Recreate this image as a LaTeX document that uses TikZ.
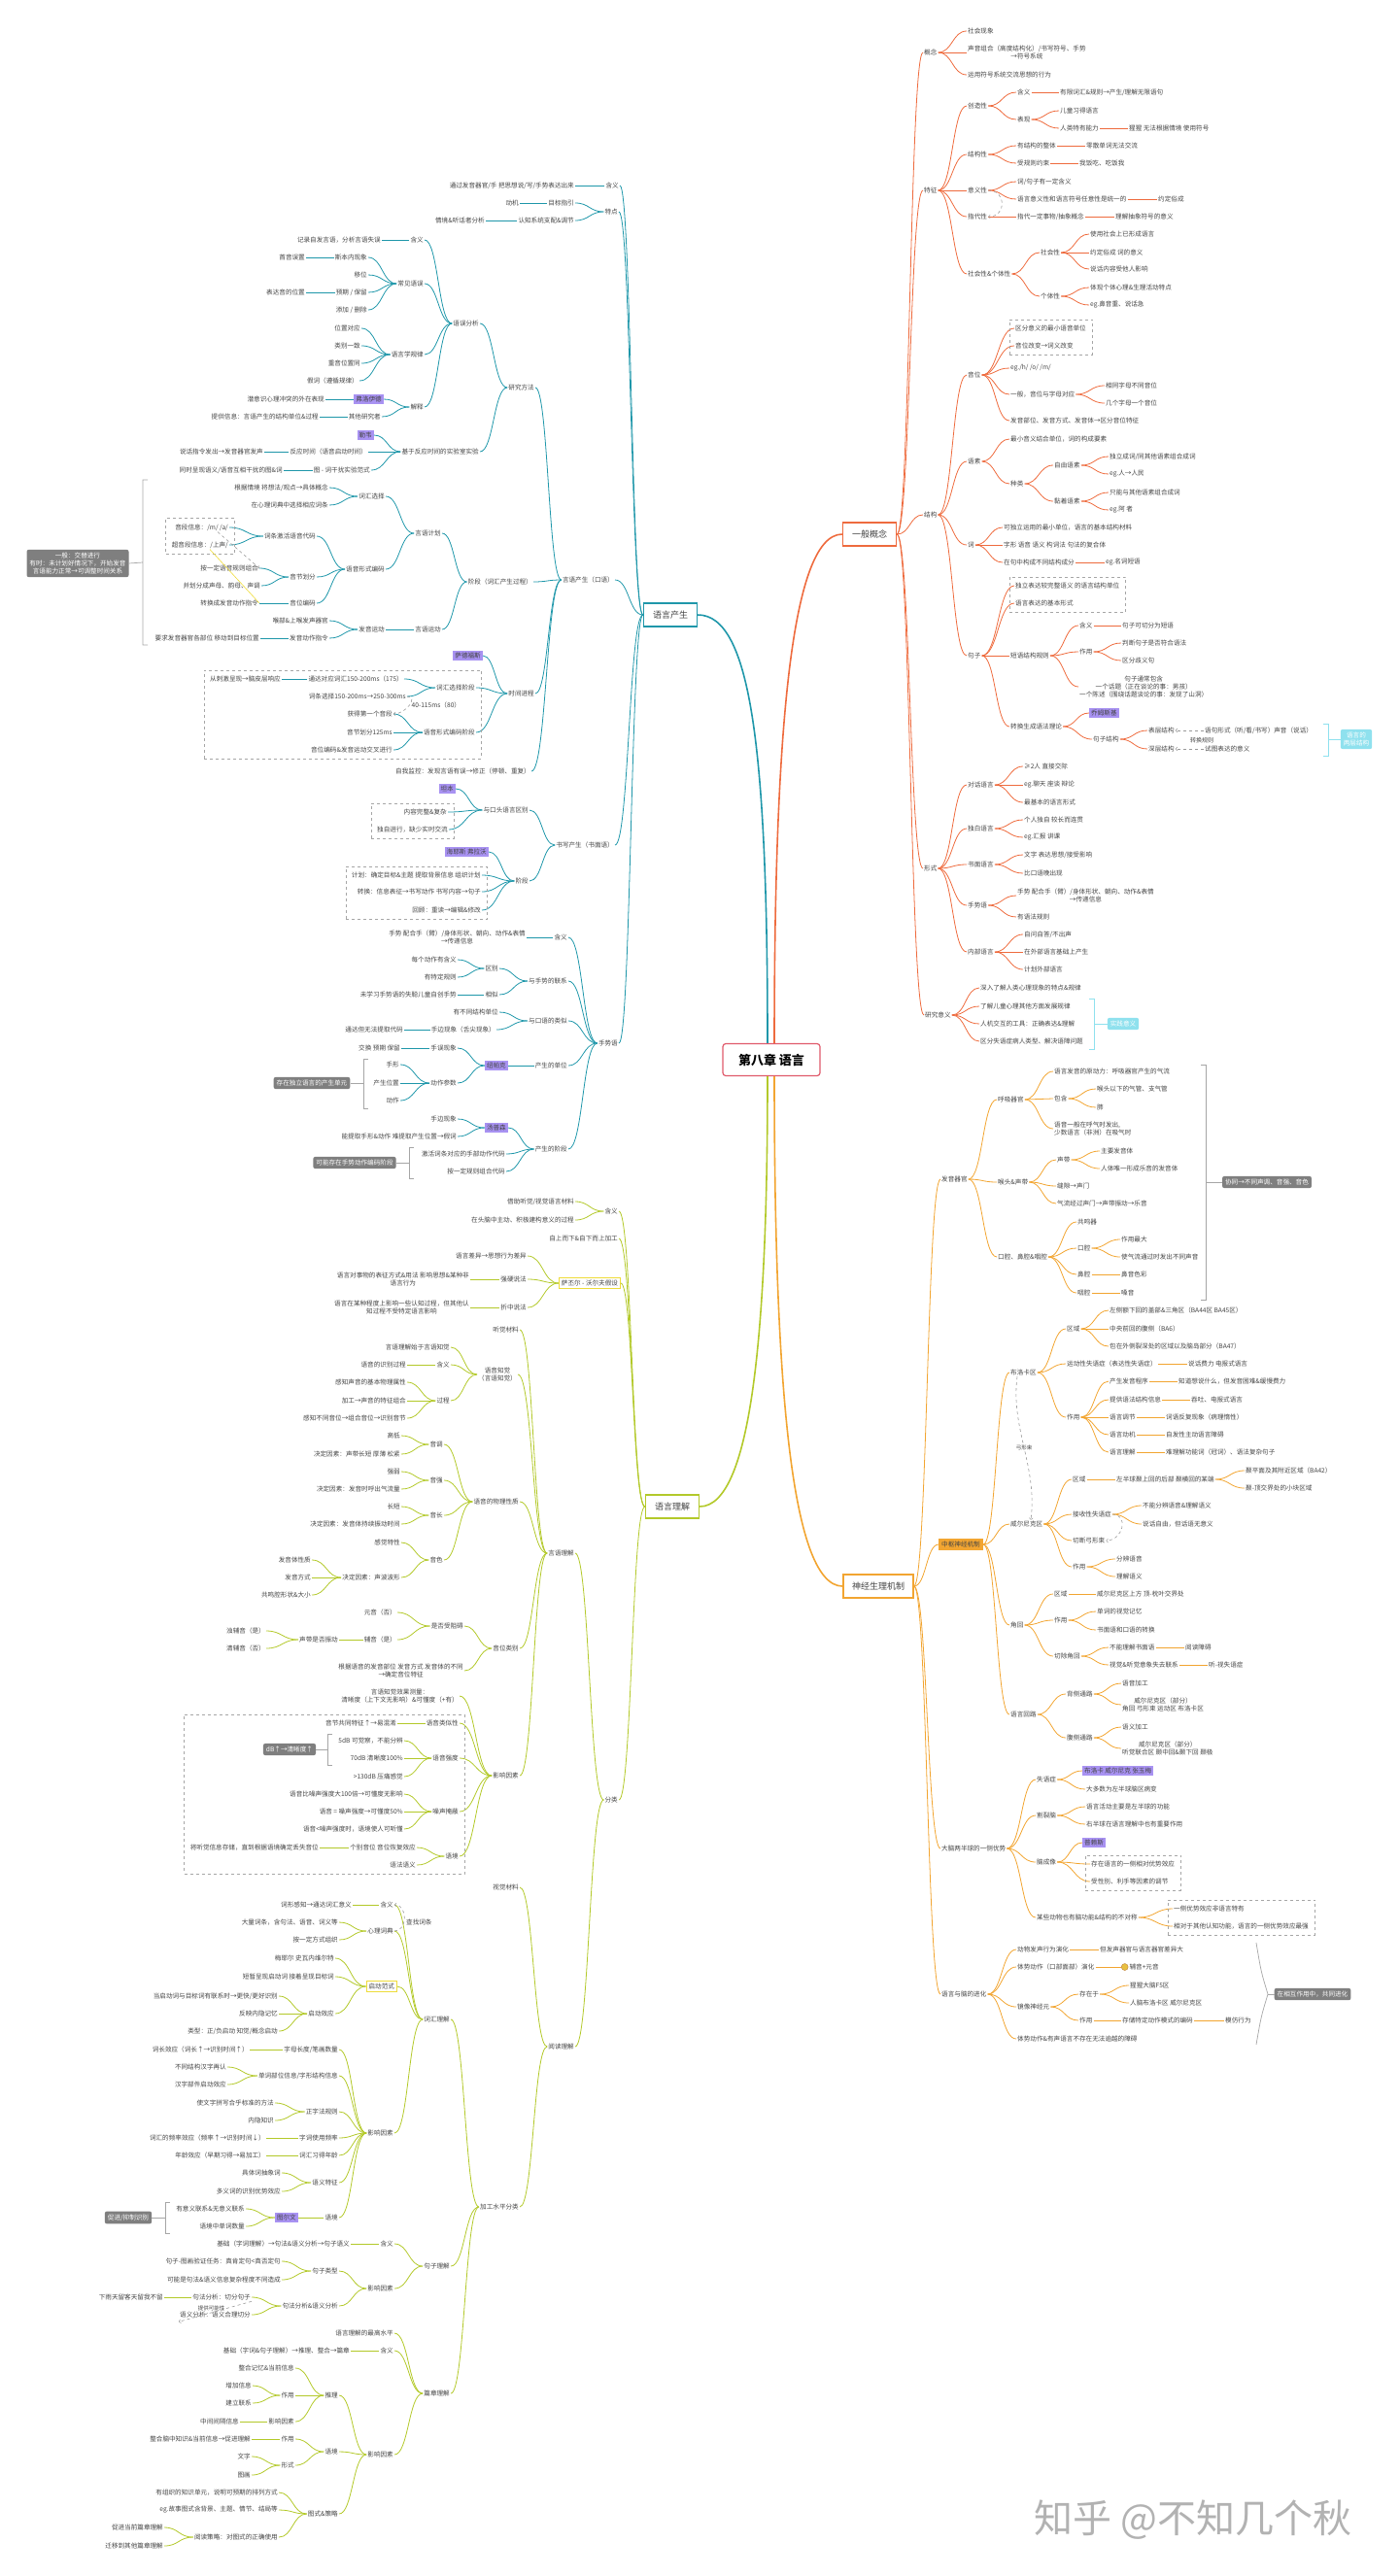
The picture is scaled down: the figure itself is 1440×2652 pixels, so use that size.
\documentclass[tikz,border=0pt]{standalone}
\usepackage{fontspec}
\setmainfont{Noto Sans CJK SC}
\usepackage{tikz}
\usetikzlibrary{calc,fit}
\definecolor{cProd}{HTML}{1F97AA}
\definecolor{cGen}{HTML}{EE6B3E}
\definecolor{cComp}{HTML}{B3C92A}
\definecolor{cNeu}{HTML}{F2A531}
\definecolor{cRoot}{HTML}{E05A6B}
\definecolor{cTag}{HTML}{A892F2}
\definecolor{cNote}{HTML}{7F7F7F}
\definecolor{cCyan}{HTML}{8FE1EE}
\definecolor{cYel}{HTML}{EEDC3A}
\definecolor{txt}{HTML}{444444}
\definecolor{cIcon}{HTML}{E8C040}
\newcommand{\leaffont}{\fontsize{6.6}{8}\selectfont}
\newcommand{\leftkid}[6][]{%
  \node[lt,#1] (#3) at (#4,#5) {#6};
  \draw[ln] let \p1=(#2.west), \p2=(#3.east) in
    (\p1) .. controls ({(\x1+\x2)/2},\y1) and ({(\x1+\x2)/2},\y2) .. (\p2);}
\newcommand{\rightkid}[6][]{%
  \node[rt,#1] (#3) at (#4,#5) {#6};
  \draw[ln] let \p1=(#2.east), \p2=(#3.west) in
    (\p1) .. controls ({(\x1+\x2)/2},\y1) and ({(\x1+\x2)/2},\y2) .. (\p2);}
\begin{document}
\begin{tikzpicture}[x=1pt,y=-1pt,
  lt/.style={anchor=east,font=\leaffont,text=txt,inner sep=1pt},
  rt/.style={anchor=west,font=\leaffont,text=txt,inner sep=1pt},
  tag/.style={fill=cTag,inner sep=2pt},
  ybox/.style={draw=cYel,line width=1pt,inner sep=2.5pt},
  obox/.style={fill=cNeu,inner sep=3pt},
  note/.style={fill=cNote,text=white,rounded corners=2pt,font=\leaffont,align=center,inner sep=3pt},
  cnote/.style={fill=cCyan,text=white,rounded corners=2pt,font=\leaffont,align=center,inner sep=3pt},
  mainbox/.style={rectangle,fill=white,line width=1.4pt,font=\fontsize{9}{10}\selectfont,text=txt,minimum height=24pt,minimum width=55pt,inner sep=3pt},
  rootbox/.style={rectangle,rounded corners=3pt,fill=white,draw=cRoot,line width=1.2pt,font=\fontsize{13}{14}\bfseries,minimum width=100pt,minimum height=33pt},
  dbox/.style={draw=gray!70,dashed,inner sep=5pt},
  brk/.style={draw=gray!70,line width=.7pt},
  rel/.style={draw=gray!80,dashed,line width=.6pt},
  ml/.style={line width=1.6pt},
  lbl/.style={font=\leaffont,text=txt,inner sep=1pt}]
\useasboundingbox (0,0) rectangle (1440,2652);

\node[rootbox] (root) at (794,1091) {第八章 语言};
\node[mainbox,draw=cProd] (prod) at (690,633) {语言产生};
\node[mainbox,draw=cComp] (comp) at (692,1551) {语言理解};
\node[mainbox,draw=cGen] (gen) at (895,550) {一般概念};
\node[mainbox,draw=cNeu,minimum width=72pt] (neu) at (904,1633) {神经生理机制};
\draw[ml,draw=cProd] (prod.east) .. controls +(55pt,0pt) and +(0pt,300pt) .. ([xshift=-4pt]root.north);
\draw[ml,draw=cGen] (gen.west) .. controls +(-55pt,0pt) and +(0pt,300pt) .. ([xshift=3pt]root.north);
\draw[ml,draw=cComp] (comp.east) .. controls +(55pt,0pt) and +(0pt,-250pt) .. ([xshift=-4pt]root.south);
\draw[ml,draw=cNeu] (neu.west) .. controls +(-55pt,0pt) and +(0pt,-300pt) .. ([xshift=3pt]root.south);

\begin{scope}[ln/.style={draw=cProd,line width=.8pt}]
\leftkid{prod}{pDef}{638}{191}{含义}
\leftkid{pDef}{pDefA}{592}{191}{通过发音器官/手 把思想说/写/手势表达出来}
\leftkid{prod}{pFeat}{637}{218}{特点}
\leftkid{pFeat}{pGoal}{592}{209}{目标指引}
\leftkid{pGoal}{pMot}{535}{209}{动机}
\leftkid{pFeat}{pCog}{592}{227}{认知系统支配\&调节}
\leftkid{pCog}{pSit}{500}{227}{情境\&听话者分析}
\leftkid{prod}{pOral}{633}{597}{言语产生（口语）}
\leftkid{pOral}{pMeth}{551}{399}{研究方法}
\leftkid{pMeth}{pErr}{494}{333}{语误分析}
\leftkid{pErr}{pErrDef}{437}{247}{含义}
\leftkid{pErrDef}{pErrDefA}{393}{247}{记录自发言语，分析言语失误}
\leftkid{pErr}{pErrType}{437}{292}{常见语误}
\leftkid{pErrType}{pSpoon}{379}{265}{斯本内现象}
\leftkid{pSpoon}{pSpoonA}{315}{265}{首音误置}
\leftkid{pErrType}{pShift}{379}{283}{移位}
\leftkid{pErrType}{pAnt}{379}{301}{预期 / 保留}
\leftkid{pAnt}{pAntA}{315}{301}{表达音的位置}
\leftkid{pErrType}{pAdd}{379}{319}{添加 / 删除}
\leftkid{pErr}{pLaw}{437}{365}{语言学规律}
\leftkid{pLaw}{pLaw1}{372}{338}{位置对应}
\leftkid{pLaw}{pLaw2}{372}{356}{类别一致}
\leftkid{pLaw}{pLaw3}{372}{374}{重音位置同}
\leftkid{pLaw}{pLaw4}{370}{392}{假词（遵循规律）}
\leftkid{pErr}{pExp}{437}{419}{解释}
\leftkid[tag]{pExp}{pFreud}{395}{411}{弗洛伊德}
\leftkid{pFreud}{pFreudA}{335}{411}{潜意识心理冲突的外在表现}
\leftkid{pExp}{pOther}{393}{429}{其他研究者}
\leftkid{pOther}{pOtherA}{329}{429}{提供信息：言语产生的结构单位\&过程}
\leftkid{pMeth}{pRT}{494}{465}{基于反应时间的实验室实验}
\leftkid[tag]{pRT}{pLevelt}{385}{448}{勒韦}
\leftkid{pRT}{pRT1}{379}{465}{反应时间（语音启动时间）}
\leftkid{pRT1}{pRT1a}{272}{465}{说话指令发出→发音器官发声}
\leftkid{pRT}{pRT2}{382}{484}{图 - 词干扰实验范式}
\leftkid{pRT2}{pRT2a}{292}{484}{同时呈现语义/语音互相干扰的图\&词}
\leftkid{pOral}{pStage}{549}{599}{阶段（词汇产生过程）}
\leftkid{pStage}{pPlan}{455}{549}{言语计划}
\leftkid{pPlan}{pLex}{397}{511}{词汇选择}
\leftkid{pLex}{pLex1}{339}{502}{根据情境 将想法/观点→具体概念}
\leftkid{pLex}{pLex2}{339}{520}{在心理词典中选择相应词条}
\leftkid{pPlan}{pPhon}{397}{586}{语音形式编码}
\leftkid{pPhon}{pAct}{326}{552}{词条激活语音代码}
\leftkid{pAct}{pSeg}{236}{543}{音段信息：/m/ /a/}
\leftkid{pAct}{pSupra}{236}{561}{超音段信息：/上声/}
\leftkid{pPhon}{pSyl}{326}{594}{音节划分}
\leftkid{pSyl}{pSyl1}{267}{585}{按一定语音规则组合}
\leftkid{pSyl}{pSyl2}{269}{603}{并划分成声母、韵母、声调}
\leftkid{pPhon}{pPho}{326}{621}{音位编码}
\leftkid{pPho}{pPho1}{267}{621}{转换成发音动作指令}
\leftkid{pStage}{pMotor}{455}{648}{言语运动}
\leftkid{pMotor}{pArt}{397}{648}{发音运动}
\leftkid{pArt}{pArt1}{339}{639}{喉部\&上喉发声器官}
\leftkid{pArt}{pArt2}{339}{657}{发音动作指令}
\leftkid{pArt2}{pArt2a}{268}{657}{要求发音器官各部位 移动到目标位置}
\leftkid{pOral}{pTime}{551}{714}{时间进程}
\leftkid[tag]{pTime}{pIndef}{497}{675}{萨德福斯}
\leftkid{pTime}{pTLex}{490}{708}{词汇选择阶段}
\leftkid{pTLex}{pTLex1}{416}{699}{通达对应词汇150-200ms（175）}
\leftkid{pTLex1}{pTLex1a}{290}{699}{从刺激呈现→脑皮层响应}
\leftkid{pTLex}{pTLex2}{419}{717}{词条选择150-200ms→250-300ms}
\leftkid{pTime}{pTPh}{490}{754}{语音形式编码阶段}
\leftkid{pTPh}{pTPh1}{405}{735}{获得第一个音段}
\leftkid{pTPh}{pTPh2}{405}{754}{音节划分125ms}
\leftkid{pTPh}{pTPh3}{405}{772}{音位编码\&发音运动交叉进行}
\leftkid{pOral}{pMon}{547}{794}{自我监控：发现言语有误→修正（停顿、重复）}
\leftkid{prod}{pWrite}{633}{870}{书写产生（书面语）}
\leftkid{pWrite}{pDiff}{545}{834}{与口头语言区别}
\leftkid[tag]{pDiff}{pBell}{469}{812}{坦本}
\leftkid{pDiff}{pDiff1}{461}{836}{内容完整\&复杂}
\leftkid{pDiff}{pDiff2}{462}{854}{独自进行，缺少实时交流}
\leftkid{pWrite}{pWStage}{545}{907}{阶段}
\leftkid[tag]{pWStage}{pHayes}{503}{877}{海耶斯 弗拉沃}
\leftkid{pWStage}{pW1}{496}{901}{计划：确定目标\&主题 提取背景信息 组织计划}
\leftkid{pWStage}{pW2}{496}{918}{转换：信息表征→书写动作 书写内容→句子}
\leftkid{pWStage}{pW3}{496}{937}{回顾：重读→编辑\&修改}
\leftkid{prod}{pSign}{637}{1074}{手势语}
\leftkid{pSign}{pSDef}{585}{965}{含义}
\leftkid[align=center]{pSDef}{pSDefA}{542}{965}{手势 配合手（臂）/身体形状、朝向、动作\&表情\\→传递信息}
\leftkid{pSign}{pSG}{585}{1010}{与手势的联系}
\leftkid{pSG}{pSGd}{514}{997}{区别}
\leftkid{pSGd}{pSGd1}{471}{988}{每个动作有含义}
\leftkid{pSGd}{pSGd2}{471}{1006}{有特定规则}
\leftkid{pSG}{pSGs}{514}{1024}{相似}
\leftkid{pSGs}{pSGs1}{471}{1024}{未学习手势语的失聪儿童自创手势}
\leftkid{pSign}{pSO}{585}{1051}{与口语的类似}
\leftkid{pSO}{pSO1}{514}{1042}{有不同结构单位}
\leftkid{pSO}{pSO2}{511}{1060}{手边现象（舌尖现象）}
\leftkid{pSO2}{pSO2a}{416}{1060}{通达但无法提取代码}
\leftkid{pSign}{pSU}{585}{1097}{产生的单位}
\leftkid[tag]{pSU}{pNew}{523}{1097}{纽帕克}
\leftkid{pNew}{pSlip}{471}{1079}{手误现象}
\leftkid{pSlip}{pSlipA}{413}{1079}{交换 预期 保留}
\leftkid{pNew}{pPar}{471}{1115}{动作参数}
\leftkid{pPar}{pPar1}{412}{1096}{手形}
\leftkid{pPar}{pPar2}{412}{1115}{产生位置}
\leftkid{pPar}{pPar3}{412}{1133}{动作}
\leftkid{pSign}{pSS}{585}{1183}{产生的阶段}
\leftkid[tag]{pSS}{pTh}{523}{1161}{汤普森}
\leftkid{pTh}{pTh1}{471}{1152}{手边现象}
\leftkid{pTh}{pTh2}{471}{1170}{能提取手形\&动作 难提取产生位置→假词}
\leftkid{pSS}{pSS1}{521}{1188}{激活词条对应的手部动作代码}
\leftkid{pSS}{pSS2}{521}{1206}{按一定规则组合代码}
\end{scope}
\node[note] (pNoteA) at (80,580) {一般：交替进行\\有时：未计划好情况下，开始发音\\言语能力正常→可调整时间关系};
\draw[brk] (152,494) -- (147,494) -- (147,664) -- (152,664) (147,579) -- (pNoteA.east);
\node[note] (pNoteB) at (321,1115) {存在独立语言的产生单元};
\draw[brk] (379,1090) -- (374,1090) -- (374,1141) -- (379,1141) (374,1115) -- (pNoteB.east);
\node[note] (pNoteC) at (365,1197) {可能存在手势动作编码阶段};
\draw[brk] (426,1181) -- (421,1181) -- (421,1213) -- (426,1213) (421,1197) -- (pNoteC.east);
\node[dbox,fit=(pSeg)(pSupra)] (pBoxA) {};
\node[dbox,fit=(pTLex1a)(pTLex)(pTPh3)] (pBoxB) {};
\node[dbox,fit=(pDiff1)(pDiff2)] (pBoxC) {};
\node[dbox,fit=(pW1)(pW3)] (pBoxD) {};
\draw[rel,->] ([xshift=-12pt]pSeg.south east) -- (pSyl1.east);
\draw[draw=cYel,line width=.6pt] ([xshift=-20pt]pSupra.south east) -- (pPho1.east);
\draw[rel,->] (pTLex2.east) to[out=0,in=0,looseness=1.4] node[lbl,right=1pt] (pLag) {40-115ms（80）} (pTPh1.east);

\begin{scope}[ln/.style={draw=cComp,line width=.8pt}]
\leftkid{comp}{uDef}{637}{1247}{含义}
\leftkid{uDef}{uDef1}{592}{1237}{借助听觉/视觉语言材料}
\leftkid{uDef}{uDef2}{592}{1256}{在头脑中主动、积极建构意义的过程}
\leftkid{comp}{uTD}{637}{1275}{自上而下\&自下而上加工}
\leftkid[ybox]{comp}{uSW}{639}{1321}{萨丕尔 - 沃尔夫假设}
\leftkid{uSW}{uSW1}{543}{1293}{语言差异→思想行为差异}
\leftkid{uSW}{uSW2}{543}{1317}{强硬说法}
\leftkid[align=center]{uSW2}{uSW2a}{484}{1317}{语言对事物的表征方式\&用法 影响思想\&某种非\\语言行为}
\leftkid{uSW}{uSW3}{543}{1346}{折中说法}
\leftkid[align=center]{uSW3}{uSW3a}{484}{1346}{语言在某种程度上影响一些认知过程，但其他认\\知过程不受特定语言影响}
\leftkid{comp}{uCls}{637}{1853}{分类}
\leftkid{uCls}{uSp}{592}{1599}{言语理解}
\leftkid{uSp}{uAud}{535}{1369}{听觉材料}
\leftkid[align=center]{uSp}{uPer}{533}{1415}{语音知觉\\（言语知觉）}
\leftkid{uPer}{uPer1}{464}{1387}{言语理解始于言语知觉}
\leftkid{uPer}{uPerD}{464}{1405}{含义}
\leftkid{uPerD}{uPerDa}{419}{1405}{语音的识别过程}
\leftkid{uPer}{uPerP}{464}{1442}{过程}
\leftkid{uPerP}{uPerP1}{419}{1423}{感知声音的基本物理属性}
\leftkid{uPerP}{uPerP2}{419}{1442}{加工→声音的特征组合}
\leftkid{uPerP}{uPerP3}{419}{1460}{感知不同音位→组合音位→识别音节}
\leftkid{uSp}{uPhy}{535}{1546}{语音的物理性质}
\leftkid{uPhy}{uPit}{457}{1487}{音调}
\leftkid{uPit}{uPit1}{413}{1478}{高低}
\leftkid{uPit}{uPit2}{413}{1497}{决定因素：声带长短 厚薄 松紧}
\leftkid{uPhy}{uInt}{457}{1524}{音强}
\leftkid{uInt}{uInt1}{413}{1515}{强弱}
\leftkid{uInt}{uInt2}{413}{1533}{决定因素：发音时呼出气流量}
\leftkid{uPhy}{uLen}{457}{1560}{音长}
\leftkid{uLen}{uLen1}{413}{1551}{长短}
\leftkid{uLen}{uLen2}{413}{1569}{决定因素：发音体持续振动时间}
\leftkid{uPhy}{uTim}{457}{1606}{音色}
\leftkid{uTim}{uTim1}{413}{1588}{感觉特性}
\leftkid{uTim}{uTim2}{413}{1624}{决定因素：声波波形}
\leftkid{uTim2}{uTim2a}{321}{1606}{发音体性质}
\leftkid{uTim2}{uTim2b}{321}{1624}{发音方式}
\leftkid{uTim2}{uTim2c}{321}{1642}{共鸣腔形状\&大小}
\leftkid{uSp}{uPho}{535}{1697}{音位类别}
\leftkid{uPho}{uObs}{478}{1674}{是否受阻碍}
\leftkid{uObs}{uVow}{409}{1660}{元音（否）}
\leftkid{uObs}{uCon}{409}{1688}{辅音（是）}
\leftkid{uCon}{uVib}{349}{1688}{声带是否振动}
\leftkid{uVib}{uVib1}{274}{1679}{浊辅音（是）}
\leftkid{uVib}{uVib2}{274}{1697}{清辅音（否）}
\leftkid[align=center]{uPho}{uFeat}{478}{1720}{根据语音的发音部位 发音方式 发音体的不同\\→确定音位特征}
\leftkid{uSp}{uFac}{535}{1828}{影响因素}
\leftkid[align=center]{uFac}{uMea}{473}{1746}{言语知觉效果测量：\\清晰度（上下文无影响）\&可懂度（+有）}
\leftkid{uFac}{uSim}{473}{1774}{语音类似性}
\leftkid{uSim}{uSim1}{409}{1774}{音节共同特征↑→易混淆}
\leftkid{uFac}{uLoud}{473}{1810}{语音强度}
\leftkid{uLoud}{uLoud1}{416}{1792}{5dB 可觉察，不能分辨}
\leftkid{uLoud}{uLoud2}{416}{1810}{70dB 清晰度100\%}
\leftkid{uLoud}{uLoud3}{416}{1829}{>130dB 压痛感觉}
\leftkid{uFac}{uMask}{473}{1865}{噪声掩蔽}
\leftkid{uMask}{uMask1}{416}{1847}{语音比噪声强度大100倍→可懂度无影响}
\leftkid{uMask}{uMask2}{416}{1865}{语音 = 噪声强度→可懂度50\%}
\leftkid{uMask}{uMask3}{416}{1883}{语音<噪声强度时，语境使人可听懂}
\leftkid{uFac}{uCtx}{473}{1911}{语境}
\leftkid{uCtx}{uCtx1}{429}{1902}{个别音位 音位恢复效应}
\leftkid{uCtx1}{uCtx1a}{329}{1902}{将听觉信息存储，直到根据语境确定丢失音位}
\leftkid{uCtx}{uCtx2}{429}{1920}{语法语义}
\leftkid{uCls}{uRd}{592}{2107}{阅读理解}
\leftkid{uRd}{uVis}{535}{1943}{视觉材料}
\leftkid{uRd}{uLvl}{535}{2272}{加工水平分类}
\leftkid{uLvl}{uWord}{464}{2079}{词汇理解}
\leftkid{uWord}{uWDef}{406}{1961}{含义}
\leftkid{uWDef}{uWDefA}{363}{1961}{词形感知→通达词汇意义}
\leftkid{uWord}{uLexi}{406}{1988}{心理词典}
\leftkid{uLexi}{uLexi1}{349}{1979}{大量词条，含句法、语音、词义等}
\leftkid{uLexi}{uLexi2}{349}{1997}{按一定方式组织}
\leftkid[ybox]{uWord}{uPrim}{409}{2045}{启动范式}
\leftkid{uPrim}{uPrim1}{345}{2016}{梅耶尔 史瓦内维尔特}
\leftkid{uPrim}{uPrim2}{345}{2035}{短暂呈现启动词 接着呈现目标词}
\leftkid{uPrim}{uPrimE}{345}{2073}{启动效应}
\leftkid{uPrimE}{uPrimE1}{287}{2055}{当启动词与目标词有联系时→更快/更好识别}
\leftkid{uPrimE}{uPrimE2}{287}{2073}{反映内隐记忆}
\leftkid{uPrimE}{uPrimE3}{287}{2091}{类型：正/负启动 知觉/概念启动}
\leftkid{uWord}{uWFac}{406}{2196}{影响因素}
\leftkid{uWFac}{uWF1}{349}{2110}{字母长度/笔画数量}
\leftkid{uWF1}{uWF1a}{257}{2110}{词长效应（词长↑→识别时间↑）}
\leftkid{uWFac}{uWF2}{349}{2137}{单词部位信息/字形结构信息}
\leftkid{uWF2}{uWF2a}{234}{2128}{不同结构汉字再认}
\leftkid{uWF2}{uWF2b}{234}{2146}{汉字部件启动效应}
\leftkid{uWFac}{uWF3}{349}{2174}{正字法规则}
\leftkid{uWF3}{uWF3a}{283}{2165}{使文字拼写合乎标准的方法}
\leftkid{uWF3}{uWF3b}{283}{2183}{内隐知识}
\leftkid{uWFac}{uWF4}{349}{2201}{字词使用频率}
\leftkid{uWF4}{uWF4a}{274}{2201}{词汇的频率效应（频率↑→识别时间↓）}
\leftkid{uWFac}{uWF5}{349}{2219}{词汇习得年龄}
\leftkid{uWF5}{uWF5a}{274}{2219}{年龄效应（早期习得→易加工）}
\leftkid{uWFac}{uWF6}{349}{2247}{语义特征}
\leftkid{uWF6}{uWF6a}{290}{2237}{具体词抽象词}
\leftkid{uWF6}{uWF6b}{290}{2256}{多义词的识别优势效应}
\leftkid{uWFac}{uWF7}{349}{2283}{语境}
\leftkid[tag]{uWF7}{uTul}{307}{2283}{图尔文}
\leftkid{uTul}{uTul1}{253}{2274}{有意义联系\&无意义联系}
\leftkid{uTul}{uTul2}{253}{2292}{语境中单词数量}
\leftkid{uLvl}{uSen}{464}{2333}{句子理解}
\leftkid{uSen}{uSDef}{406}{2310}{含义}
\leftkid{uSDef}{uSDefA}{361}{2310}{基础（字词理解）→句法\&语义分析→句子语义}
\leftkid{uSen}{uSFac}{406}{2356}{影响因素}
\leftkid{uSFac}{uSType}{349}{2338}{句子类型}
\leftkid{uSType}{uSType1}{290}{2328}{句子-图画验证任务：真肯定句<真否定句}
\leftkid{uSType}{uSType2}{290}{2347}{可能是句法\&语义信息复杂程度不同造成}
\leftkid{uSFac}{uSyn}{349}{2374}{句法分析\&语义分析}
\leftkid{uSyn}{uSyn1}{259}{2365}{句法分析：切分句子}
\leftkid{uSyn1}{uSyn1a}{169}{2365}{下雨天留客天留我不留}
\leftkid{uSyn}{uSyn2}{259}{2383}{语义分析：语义合理切分}
\leftkid{uLvl}{uDis}{464}{2464}{篇章理解}
\leftkid{uDis}{uDis1}{406}{2402}{语言理解的最高水平}
\leftkid{uDis}{uDDef}{406}{2420}{含义}
\leftkid{uDDef}{uDDefA}{361}{2420}{基础（字词\&句子理解）→推理、整合→篇章}
\leftkid{uDis}{uDFac}{406}{2527}{影响因素}
\leftkid{uDFac}{uInf}{349}{2466}{推理}
\leftkid{uInf}{uInf1}{304}{2438}{整合记忆\&当前信息}
\leftkid{uInf}{uInfR}{304}{2466}{作用}
\leftkid{uInfR}{uInfR1}{260}{2456}{增加信息}
\leftkid{uInfR}{uInfR2}{260}{2474}{建立联系}
\leftkid{uInf}{uInfF}{304}{2493}{影响因素}
\leftkid{uInfF}{uInfF1}{247}{2493}{中间间隔信息}
\leftkid{uDFac}{uDC}{349}{2524}{语境}
\leftkid{uDC}{uDCR}{304}{2511}{作用}
\leftkid{uDCR}{uDCR1}{259}{2511}{整合脑中知识\&当前信息→促进理解}
\leftkid{uDC}{uDCF}{304}{2538}{形式}
\leftkid{uDCF}{uDCF1}{259}{2529}{文字}
\leftkid{uDCF}{uDCF2}{259}{2548}{图画}
\leftkid{uDFac}{uSch}{349}{2588}{图式\&策略}
\leftkid{uSch}{uSch1}{287}{2566}{有组织的知识单元，说明可预期的排列方式}
\leftkid{uSch}{uSch2}{287}{2584}{eg.故事图式含背景、主题、情节、结局等}
\leftkid{uSch}{uSch3}{287}{2612}{阅读策略：对图式的正确使用}
\leftkid{uSch3}{uSch3a}{169}{2602}{促进当前篇章理解}
\leftkid{uSch3}{uSch3b}{169}{2621}{迁移到其他篇章理解}
\end{scope}
\node[dbox,fit=(uSim)(uCtx1a)(uCtx2)(uMask1)] (uBox) {};
\node[note] (uNote) at (298,1801) {dB↑→清晰度↑};
\draw[brk] (342,1785) -- (337,1785) -- (337,1817) -- (342,1817) (337,1801) -- (uNote.east);
\node[note] (uNote2) at (132,2283) {促进/抑制识别};
\draw[brk] (175,2267) -- (170,2267) -- (170,2299) -- (175,2299) (170,2283) -- (uNote2.east);
\draw[rel,->] (uLexi.east) to[out=0,in=0,looseness=1.3] node[lbl,right=1pt,pos=.4] (uLook) {查找词条} (uWDef.east);
\draw[rel,->] (uSyn1.south east) -- node[lbl,font=\fontsize{5.5}{6}\selectfont,pos=.5,yshift=3pt,xshift=-4pt] (uPoss) {提供可能性} ([yshift=-3pt]uSyn2.south west);

\begin{scope}[ln/.style={draw=cGen,line width=.8pt}]
\rightkid{gen}{gCon}{950}{54}{概念}
\rightkid{gCon}{gCon1}{995}{32}{社会现象}
\rightkid[align=center]{gCon}{gCon2}{995}{54}{声音组合（高度结构化）/书写符号、手势\\→符号系统}
\rightkid{gCon}{gCon3}{995}{77}{运用符号系统交流思想的行为}
\rightkid{gen}{gFeat}{950}{196}{特征}
\rightkid{gFeat}{gCre}{995}{109}{创造性}
\rightkid{gCre}{gCreD}{1046}{95}{含义}
\rightkid{gCreD}{gCreDa}{1090}{95}{有限词汇\&规则→产生/理解无限语句}
\rightkid{gCre}{gCreE}{1046}{123}{表现}
\rightkid{gCreE}{gCreE1}{1090}{114}{儿童习得语言}
\rightkid{gCreE}{gCreE2}{1090}{132}{人类特有能力}
\rightkid{gCreE2}{gCreE2a}{1161}{132}{猩猩 无法根据情境 使用符号}
\rightkid{gFeat}{gStr}{995}{159}{结构性}
\rightkid{gStr}{gStr1}{1046}{150}{有结构的整体}
\rightkid{gStr1}{gStr1a}{1117}{150}{零散单词无法交流}
\rightkid{gStr}{gStr2}{1046}{168}{受规则约束}
\rightkid{gStr2}{gStr2a}{1110}{168}{我饭吃、吃饭我}
\rightkid{gFeat}{gMean}{995}{196}{意义性}
\rightkid{gMean}{gMean1}{1046}{187}{词/句子有一定含义}
\rightkid{gMean}{gMean2}{1046}{205}{语言意义性和语言符号任意性是统一的}
\rightkid{gMean2}{gMean2a}{1191}{205}{约定俗成}
\rightkid{gFeat}{gRef}{995}{223}{指代性}
\rightkid{gRef}{gRef1}{1046}{223}{指代一定事物/抽象概念}
\rightkid{gRef1}{gRef1a}{1147}{223}{理解抽象符号的意义}
\rightkid{gFeat}{gSoc}{995}{282}{社会性\&个体性}
\rightkid{gSoc}{gSoc1}{1070}{260}{社会性}
\rightkid{gSoc1}{gSoc1a}{1121}{241}{使用社会上已形成语言}
\rightkid{gSoc1}{gSoc1b}{1121}{260}{约定俗成 词的意义}
\rightkid{gSoc1}{gSoc1c}{1121}{277}{说话内容受他人影响}
\rightkid{gSoc}{gInd}{1070}{305}{个体性}
\rightkid{gInd}{gInd1}{1121}{296}{体现个体心理\&生理活动特点}
\rightkid{gInd}{gInd2}{1121}{314}{eg.鼻音重、说话急}
\rightkid{gen}{gStru}{950}{530}{结构}
\rightkid{gStru}{gPh}{995}{386}{音位}
\rightkid{gPh}{gPh1}{1044}{338}{区分意义的最小语音单位}
\rightkid{gPh}{gPh2}{1044}{356}{音位改变→词义改变}
\rightkid{gPh}{gPh3}{1039}{379}{eg./h/ /o/ /m/}
\rightkid{gPh}{gPh4}{1039}{406}{一般，音位与字母对应}
\rightkid{gPh4}{gPh4a}{1137}{397}{相同字母不同音位}
\rightkid{gPh4}{gPh4b}{1137}{415}{几个字母一个音位}
\rightkid{gPh}{gPh5}{1039}{433}{发音部位、发音方式、发音体→区分音位特征}
\rightkid{gStru}{gMor}{995}{475}{语素}
\rightkid{gMor}{gMor1}{1039}{452}{最小音义结合单位，词的构成要素}
\rightkid{gMor}{gMorK}{1039}{498}{种类}
\rightkid{gMorK}{gFree}{1084}{479}{自由语素}
\rightkid{gFree}{gFree1}{1141}{470}{独立成词/同其他语素组合成词}
\rightkid{gFree}{gFree2}{1141}{488}{eg.人→人民}
\rightkid{gMorK}{gBnd}{1084}{516}{黏着语素}
\rightkid{gBnd}{gBnd1}{1141}{507}{只能与其他语素组合成词}
\rightkid{gBnd}{gBnd2}{1141}{525}{eg.阿 者}
\rightkid{gStru}{gWd}{995}{561}{词}
\rightkid{gWd}{gWd1}{1032}{543}{可独立运用的最小单位，语言的基本结构材料}
\rightkid{gWd}{gWd2}{1032}{561}{字形 语音 语义 构词法 句法的复合体}
\rightkid{gWd}{gWd3}{1032}{579}{在句中构成不同结构成分}
\rightkid{gWd3}{gWd3a}{1137}{579}{eg.名词短语}
\rightkid{gStru}{gSen}{995}{675}{句子}
\rightkid{gSen}{gSen1}{1044}{603}{独立表达较完整语义 的语言结构单位}
\rightkid{gSen}{gSen2}{1044}{621}{语言表达的基本形式}
\rightkid{gSen}{gPSR}{1039}{675}{短语结构规则}
\rightkid{gPSR}{gPSRd}{1110}{644}{含义}
\rightkid{gPSRd}{gPSRda}{1154}{644}{句子可切分为短语}
\rightkid{gPSR}{gPSRf}{1110}{671}{作用}
\rightkid{gPSRf}{gPSRf1}{1154}{662}{判断句子是否符合语法}
\rightkid{gPSRf}{gPSRf2}{1154}{680}{区分歧义句}
\rightkid[align=center]{gPSR}{gPSRt}{1110}{707}{句子通常包含\\一个话题（正在谈论的事：男孩）\\一个陈述（围绕话题谈论的事：发现了山洞）}
\rightkid{gSen}{gTG}{1039}{748}{转换生成语法理论}
\rightkid[tag]{gTG}{gChom}{1121}{734}{乔姆斯基}
\rightkid{gTG}{gSS}{1124}{761}{句子结构}
\rightkid{gSS}{gSur}{1181}{752}{表层结构}
\rightkid{gSS}{gDeep}{1181}{771}{深层结构}
\rightkid{gen}{gForm}{950}{894}{形式}
\rightkid{gForm}{gDia}{995}{808}{对话语言}
\rightkid{gDia}{gDia1}{1053}{789}{≥2人 直接交际}
\rightkid{gDia}{gDia2}{1053}{808}{eg.聊天 座谈 辩论}
\rightkid{gDia}{gDia3}{1053}{826}{最基本的语言形式}
\rightkid{gForm}{gMon}{995}{853}{独白语言}
\rightkid{gMon}{gMon1}{1053}{844}{个人独自 较长而连贯}
\rightkid{gMon}{gMon2}{1053}{862}{eg.汇报 讲课}
\rightkid{gForm}{gWri}{995}{890}{书面语言}
\rightkid{gWri}{gWri1}{1053}{880}{文字 表达思想/接受影响}
\rightkid{gWri}{gWri2}{1053}{899}{比口语晚出现}
\rightkid{gForm}{gSig}{995}{932}{手势语}
\rightkid[align=center]{gSig}{gSig1}{1046}{922}{手势 配合手（臂）/身体形状、朝向、动作\&表情\\→传递信息}
\rightkid{gSig}{gSig2}{1046}{944}{有语法规则}
\rightkid{gForm}{gInn}{995}{980}{内部语言}
\rightkid{gInn}{gInn1}{1053}{962}{自问自答/不出声}
\rightkid{gInn}{gInn2}{1053}{980}{在外部语言基础上产生}
\rightkid{gInn}{gInn3}{1053}{998}{计划外部语言}
\rightkid{gen}{gRes}{951}{1045}{研究意义}
\rightkid{gRes}{gRes1}{1008}{1017}{深入了解人类心理现象的特点\&规律}
\rightkid{gRes}{gRes2}{1008}{1036}{了解儿童心理其他方面发展规律}
\rightkid{gRes}{gRes3}{1008}{1054}{人机交互的工具：正确表达\&理解}
\rightkid{gRes}{gRes4}{1008}{1072}{区分失语症病人类型、解决语障问题}
\end{scope}
\node[dbox,fit=(gPh1)(gPh2)] (gBoxA) {};
\node[dbox,fit=(gSen1)(gSen2)] (gBoxB) {};
\draw[rel,->] (gMean.east) to[out=0,in=0,looseness=1.8] (gRef.east);
\node[lbl,anchor=west] (gSurA) at (1239,752) {语句形式（听/看/书写）声音（说话）};
\node[lbl,anchor=west] (gDeepA) at (1239,771) {试图表达的意义};
\node[lbl,font=\fontsize{6}{7}\selectfont] (gRule) at (1237,762) {转换规则};
\draw[rel,->] (gSurA.west) -- (gSur.east);
\draw[rel,->] (gDeepA.west) -- (gDeep.east);
\node[cnote] (gNoteA) at (1396,761) {语言的\\两层结构};
\draw[draw=cCyan,line width=.7pt] (1362,745) -- (1367,745) -- (1367,778) -- (1362,778) (1367,761) -- (gNoteA.west);
\node[cnote] (gNoteB) at (1156,1054) {实践意义};
\draw[draw=cCyan,line width=.7pt] (1121,1028) -- (1126,1028) -- (1126,1080) -- (1121,1080) (1126,1054) -- (gNoteB.west);

\begin{scope}[ln/.style={draw=cNeu,line width=.8pt}]
\rightkid{neu}{nOrg}{968}{1214}{发音器官}
\rightkid{nOrg}{nRes}{1026}{1132}{呼吸器官}
\rightkid{nRes}{nRes1}{1084}{1103}{语言发音的原动力：呼吸器官产生的气流}
\rightkid{nRes}{nRes2}{1084}{1131}{包含}
\rightkid{nRes2}{nRes2a}{1128}{1121}{喉头以下的气管、支气管}
\rightkid{nRes2}{nRes2b}{1128}{1140}{肺}
\rightkid[align=left]{nRes}{nRes3}{1084}{1162}{语音一般在呼气时发出,\\少数语言（非洲）在吸气时}
\rightkid{nOrg}{nLar}{1026}{1217}{喉头\&声带}
\rightkid{nLar}{nVoc}{1087}{1194}{声带}
\rightkid{nVoc}{nVoc1}{1132}{1185}{主要发音体}
\rightkid{nVoc}{nVoc2}{1132}{1203}{人体唯一形成乐音的发音体}
\rightkid{nLar}{nLar2}{1087}{1221}{缝隙→声门}
\rightkid{nLar}{nLar3}{1087}{1239}{气流经过声门→声带振动→乐音}
\rightkid{nOrg}{nCav}{1026}{1294}{口腔、鼻腔\&咽腔}
\rightkid{nCav}{nCav1}{1108}{1258}{共鸣器}
\rightkid{nCav}{nMou}{1108}{1285}{口腔}
\rightkid{nMou}{nMou1}{1153}{1276}{作用最大}
\rightkid{nMou}{nMou2}{1153}{1294}{使气流通过时发出不同声音}
\rightkid{nCav}{nNos}{1108}{1312}{鼻腔}
\rightkid{nNos}{nNos1}{1153}{1312}{鼻音色彩}
\rightkid{nCav}{nPha}{1108}{1331}{咽腔}
\rightkid{nPha}{nPha1}{1153}{1331}{嗓音}
\rightkid[obox]{neu}{nCNS}{966}{1590}{中枢神经机制}
\rightkid{nCNS}{nBro}{1039}{1413}{布洛卡区}
\rightkid{nBro}{nBroA}{1097}{1368}{区域}
\rightkid{nBroA}{nBroA1}{1141}{1349}{左侧额下回的盖部\&三角区（BA44区 BA45区）}
\rightkid{nBroA}{nBroA2}{1141}{1368}{中央前回的腹侧（BA6）}
\rightkid{nBroA}{nBroA3}{1141}{1386}{包在外侧裂深处的区域以及脑岛部分（BA47）}
\rightkid{nBro}{nBroM}{1097}{1404}{运动性失语症（表达性失语症）}
\rightkid{nBroM}{nBroM1}{1222}{1404}{说话费力 电报式语言}
\rightkid{nBro}{nBroF}{1097}{1459}{作用}
\rightkid{nBroF}{nBF1}{1141}{1422}{产生发音程序}
\rightkid{nBF1}{nBF1a}{1212}{1422}{知道想说什么，但发音困难\&缓慢费力}
\rightkid{nBroF}{nBF2}{1141}{1441}{提供语法结构信息}
\rightkid{nBF2}{nBF2a}{1225}{1441}{吞吐、电报式语言}
\rightkid{nBroF}{nBF3}{1141}{1459}{语言调节}
\rightkid{nBF3}{nBF3a}{1199}{1459}{词语反复现象（病理惰性）}
\rightkid{nBroF}{nBF4}{1141}{1477}{语言动机}
\rightkid{nBF4}{nBF4a}{1199}{1477}{自发性主动语言障碍}
\rightkid{nBroF}{nBF5}{1141}{1495}{语言理解}
\rightkid{nBF5}{nBF5a}{1199}{1495}{难理解功能词（冠词）、语法复杂句子}
\rightkid{nCNS}{nWer}{1039}{1569}{威尔尼克区}
\rightkid{nWer}{nWerA}{1103}{1523}{区域}
\rightkid{nWerA}{nWerA1}{1148}{1523}{左半球颞上回的后部 颞横回的某端}
\rightkid{nWerA1}{nWerA1a}{1281}{1514}{颞平面及其附近区域（BA42）}
\rightkid{nWerA1}{nWerA1b}{1281}{1532}{颞-顶交界处的小块区域}
\rightkid{nWer}{nWerR}{1103}{1559}{接收性失语症}
\rightkid{nWerR}{nWerR1}{1175}{1550}{不能分辨语音\&理解语义}
\rightkid{nWerR}{nWerR2}{1175}{1569}{说话自由，但话语无意义}
\rightkid{nWer}{nWerC}{1103}{1586}{切断弓形束}
\rightkid{nWer}{nWerF}{1103}{1613}{作用}
\rightkid{nWerF}{nWerF1}{1148}{1605}{分辨语音}
\rightkid{nWerF}{nWerF2}{1148}{1623}{理解语义}
\rightkid{nCNS}{nAng}{1039}{1673}{角回}
\rightkid{nAng}{nAngA}{1084}{1641}{区域}
\rightkid{nAngA}{nAngA1}{1128}{1641}{威尔尼克区上方 顶-枕叶交界处}
\rightkid{nAng}{nAngF}{1084}{1668}{作用}
\rightkid{nAngF}{nAngF1}{1128}{1659}{单词的视觉记忆}
\rightkid{nAngF}{nAngF2}{1128}{1678}{书面语和口语的转换}
\rightkid{nAng}{nAngC}{1084}{1705}{切除角回}
\rightkid{nAngC}{nAngC1}{1141}{1696}{不能理解书面语}
\rightkid{nAngC1}{nAngC1a}{1219}{1696}{阅读障碍}
\rightkid{nAngC}{nAngC2}{1141}{1714}{视觉\&听觉意象失去联系}
\rightkid{nAngC2}{nAngC2a}{1243}{1714}{听-视失语症}
\rightkid{nCNS}{nLoop}{1039}{1765}{语言回路}
\rightkid{nLoop}{nDor}{1097}{1744}{背侧通路}
\rightkid{nDor}{nDor1}{1154}{1733}{语音加工}
\rightkid[align=center]{nDor}{nDor2}{1154}{1755}{威尔尼克区（部分）\\角回 弓形束 运动区 布洛卡区}
\rightkid{nLoop}{nVen}{1097}{1789}{腹侧通路}
\rightkid{nVen}{nVen1}{1154}{1778}{语义加工}
\rightkid[align=center]{nVen}{nVen2}{1154}{1800}{威尔尼克区（部分）\\听觉联合区 颞中回\&颞下回 颞极}
\rightkid{neu}{nLat}{968}{1903}{大脑两半球的一侧优势}
\rightkid{nLat}{nAph}{1066}{1832}{失语症}
\rightkid[tag]{nAph}{nAph1}{1114}{1823}{布洛卡 威尔尼克 张玉梅}
\rightkid{nAph}{nAph2}{1117}{1842}{大多数为左半球脑区病变}
\rightkid{nLat}{nSpl}{1066}{1869}{割裂脑}
\rightkid{nSpl}{nSpl1}{1117}{1860}{语言活动主要是左半球的功能}
\rightkid{nSpl}{nSpl2}{1117}{1878}{右半球在语言理解中也有重要作用}
\rightkid{nLat}{nImg}{1066}{1917}{脑成像}
\rightkid[tag]{nImg}{nImg1}{1114}{1897}{普赖斯}
\rightkid{nImg}{nImg2}{1122}{1919}{存在语言的一侧相对优势效应}
\rightkid{nImg}{nImg3}{1122}{1937}{受性别、利手等因素的调节}
\rightkid{nLat}{nAni}{1066}{1974}{某些动物也有脑功能\&结构的不对称}
\rightkid{nAni}{nAni1}{1207}{1965}{一侧优势效应非语言特有}
\rightkid{nAni}{nAni2}{1207}{1983}{相对于其他认知功能，语言的一侧优势效应最强}
\rightkid{neu}{nEvo}{968}{2053}{语言与脑的进化}
\rightkid{nEvo}{nEvo1}{1046}{2007}{动物发声行为演化}
\rightkid{nEvo1}{nEvo1a}{1131}{2007}{但发声器官与语言器官差异大}
\rightkid{nEvo}{nEvo2}{1046}{2025}{体势动作（口部面部）演化}
\rightkid[circle,fill=cIcon,draw=brown,minimum size=7pt,inner sep=0pt]{nEvo2}{nIcon}{1154}{2025}{}
\rightkid{nEvo}{nMir}{1046}{2066}{镜像神经元}
\rightkid{nMir}{nMirE}{1110}{2053}{存在于}
\rightkid{nMirE}{nMirE1}{1162}{2044}{猩猩大脑F5区}
\rightkid{nMirE}{nMirE2}{1162}{2062}{人脑布洛卡区 威尔尼克区}
\rightkid{nMir}{nMirF}{1110}{2080}{作用}
\rightkid{nMirF}{nMirF1}{1154}{2080}{存储特定动作模式的编码}
\rightkid{nMirF1}{nMirF1a}{1260}{2080}{模仿行为}
\rightkid{nEvo}{nEvo4}{1046}{2099}{体势动作\&有声语言不存在无法逾越的障碍}
\end{scope}
\node[lbl,anchor=west] (nEvo2a) at (nIcon.east) {辅音+元音};
\node[dbox,fit=(nImg2)(nImg3)] (nBoxA) {};
\node[dbox,fit=(nAni1)(nAni2)] (nBoxB) {};
\node[note] (nNoteA) at (1304,1217) {协同→不同声调、音强、音色};
\draw[brk] (1236,1096) -- (1241,1096) -- (1241,1338) -- (1236,1338) (1241,1217) -- (nNoteA.west);
\node[lbl,font=\fontsize{5.5}{6}\selectfont] (nArc) at (1054,1490) {弓形束};
\draw[rel,->] ([xshift=8pt]nBro.south west) .. controls (1040,1470) and (1068,1510) .. ([xshift=22pt]nWer.north west);
\draw[rel,->] (nWerR.east) to[out=0,in=0,looseness=1.6] (nWerC.east);
\node[note] (nNoteB) at (1351,2053) {在相互作用中，共同进化};
\draw[brk] (1293,2000) .. controls (1298,2030) .. (1305,2053) .. controls (1298,2076) .. (1293,2105);
\draw[brk] (1305,2053) -- (nNoteB.west);

\node[font=\fontsize{40}{44}\selectfont,text=black!30] (wmark) at (1228,2594) {知乎 @不知几个秋};
\end{tikzpicture}
\end{document}
